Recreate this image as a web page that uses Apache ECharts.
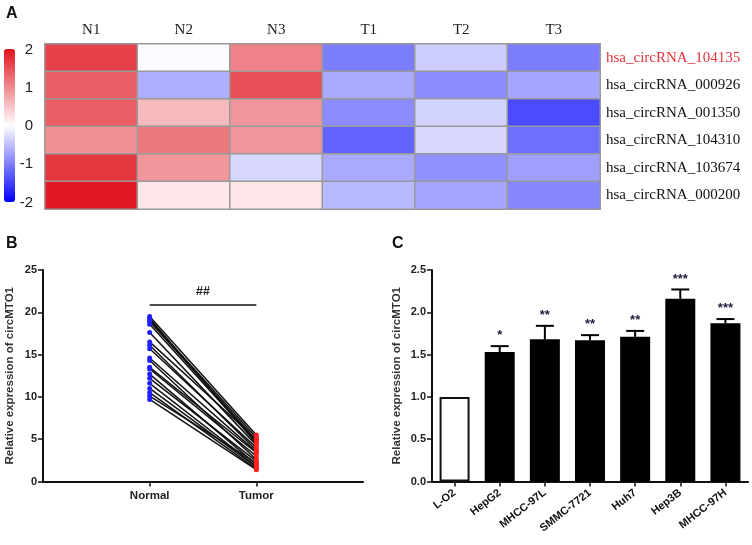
<!DOCTYPE html>
<html>
<head>
<meta charset="utf-8">
<script src="https://cdn.jsdelivr.net/npm/echarts@6/dist/echarts.min.js"></script>
<style>html,body{margin:0;padding:0;background:#fff}#c{width:752px;height:545px}</style>
</head>
<body>
<div id="c"></div>
<script>
// ---- Panel A: heatmap ----
const heatCols = ['N1', 'N2', 'N3', 'T1', 'T2', 'T3'];
const heatRows = ['hsa_circRNA_104135', 'hsa_circRNA_000926', 'hsa_circRNA_001350',
                  'hsa_circRNA_104310', 'hsa_circRNA_103674', 'hsa_circRNA_000200'];
const heatValues = [
  [1.62, -0.03, 1.06, -1.02, -0.39, -1.02],
  [1.36, -0.63, 1.49, -0.67, -0.90, -0.70],
  [1.36, 0.60, 0.89, -0.90, -0.35, -1.41],
  [0.94, 1.15, 0.89, -1.22, -0.31, -1.14],
  [1.70, 0.89, -0.31, -0.67, -0.86, -0.75],
  [1.96, 0.21, 0.21, -0.55, -0.70, -0.94]
];
const colorbarTicks = [-2, -1, 0, 1, 2];

// ---- Panel B: paired Normal vs Tumor ----
const pairCategories = ['', 'Normal', 'Tumor', ''];
const normalValues = [19.5, 19.3, 19.1, 18.9, 18.6, 17.6, 16.5, 16.1, 15.7, 14.6,
                      14.3, 13.5, 13.3, 12.7, 12.2, 11.6, 11.0, 10.5, 10.1, 9.7];
const tumorValues  = [5.5, 4.5, 5.2, 4.9, 4.7, 4.3, 5.0, 3.7, 4.0, 3.5,
                      2.6, 3.4, 3.0, 2.0, 2.4, 1.8, 1.7, 1.5, 2.2, 1.4];
const bracketValue = 20.9;
const bracketLabel = '##';

// ---- Panel C: cell lines ----
const cellLines = ['L-O2', 'HepG2', 'MHCC-97L', 'SMMC-7721', 'Huh7', 'Hep3B', 'MHCC-97H'];
const cellMeans = [1.00, 1.53, 1.68, 1.67, 1.71, 2.16, 1.87];
const cellErr   = [0.00, 0.07, 0.16, 0.06, 0.07, 0.11, 0.05];
const cellStars = ['', '*', '**', '**', '**', '***', '***'];

const yName = 'Relative expression of circMTO1';
const chart = echarts.init(document.getElementById('c'), null, {renderer: 'canvas'});

const heatData = [];
heatValues.forEach((row, r) => row.forEach((v, c) => heatData.push([c, r, v])));

const axisBlack = {lineStyle: {color: '#111', width: 2}};
const tickBlack = {show: true, length: 5, lineStyle: {color: '#111', width: 1.5}};
const boldLbl = {color: '#222', fontSize: 11, fontWeight: 'bold', fontFamily: 'Arial'};

const pairSeries = normalValues.map((n, i) => ({
  type: 'line', xAxisIndex: 1, yAxisIndex: 1,
  data: [
    {value: [1, n], itemStyle: {color: '#2020ff'}},
    {value: [2, tumorValues[i]], itemStyle: {color: '#ff2020'}}
  ],
  symbol: 'circle', symbolSize: 5, showSymbol: true,
  lineStyle: {color: '#111', width: 1.5},
  silent: true, animation: false
}));

const option = {
  animation: false,
  title: [
    {text: 'A', left: 6, top: 6, padding: 0, textStyle: {fontSize: 16, fontWeight: 'bold', fontFamily: 'Arial', color: '#111'}},
    {text: 'B', left: 6, top: 236, padding: 0, textStyle: {fontSize: 16, fontWeight: 'bold', fontFamily: 'Arial', color: '#111'}},
    {text: 'C', left: 392, top: 236, padding: 0, textStyle: {fontSize: 16, fontWeight: 'bold', fontFamily: 'Arial', color: '#111'}}
  ],
  grid: [
    {left: 45, top: 44, width: 555, height: 165},
    {left: 43, top: 270, width: 320, height: 211.5},
    {left: 432, top: 270, width: 316, height: 211.5},
    {left: 4, top: 49.5, width: 11, height: 153}
  ],
  visualMap: {
    type: 'continuous', min: -2, max: 2, seriesIndex: 0,
    left: 4, top: 49, itemWidth: 11, itemHeight: 153, padding: 0,
    calculable: false, hoverLink: false, text: null,
    inRange: {color: ['#0000ff', '#ffffff', '#e0141e']}
  },
  xAxis: [
    {type: 'category', gridIndex: 0, data: heatCols, position: 'top',
     axisLine: {show: false}, axisTick: {show: false}, splitArea: {show: false},
     axisLabel: {margin: 6, fontSize: 15, fontFamily: '"Liberation Serif", "Times New Roman", serif', color: '#222'}},
    {type: 'category', gridIndex: 1, data: pairCategories, boundaryGap: false,
     axisLine: axisBlack,
     axisTick: Object.assign({}, tickBlack, {interval: (i) => i === 1 || i === 2}),
     axisLabel: Object.assign({}, boldLbl, {margin: 8, fontSize: 11.5, interval: (i) => i === 1 || i === 2})},
    {type: 'category', gridIndex: 2, data: cellLines,
     axisLine: axisBlack,
     axisTick: Object.assign({}, tickBlack, {alignWithLabel: true}),
     axisLabel: Object.assign({}, boldLbl, {rotate: 38, margin: 10, interval: 0, color: '#111'})},
    {type: 'value', gridIndex: 3, show: false, min: 0, max: 1}
  ],
  yAxis: [
    {type: 'category', gridIndex: 0, data: heatRows, position: 'right', inverse: true,
     axisLine: {show: false}, axisTick: {show: false},
     axisLabel: {margin: 6, fontSize: 15, fontFamily: '"Liberation Serif", "Times New Roman", serif', color: '#111',
       formatter: (v, i) => i === 0 ? '{r|' + v + '}' : v,
       rich: {r: {color: '#e8323c', fontSize: 15, fontFamily: '"Liberation Serif", "Times New Roman", serif'}}}},
    {type: 'value', gridIndex: 1, min: 0, max: 25, interval: 5,
     axisLine: Object.assign({show: true}, axisBlack), axisTick: tickBlack,
     splitLine: {show: false}, axisLabel: Object.assign({}, boldLbl, {margin: 6}),
     name: yName, nameLocation: 'middle', nameGap: 27,
     nameTextStyle: {fontSize: 11.5, fontWeight: 'bold', fontFamily: 'Arial', color: '#333'}},
    {type: 'value', gridIndex: 2, min: 0, max: 2.5, interval: 0.5,
     axisLine: Object.assign({show: true}, axisBlack), axisTick: tickBlack,
     splitLine: {show: false},
     axisLabel: Object.assign({}, boldLbl, {margin: 6, formatter: (v) => v.toFixed(1)}),
     name: yName, nameLocation: 'middle', nameGap: 29,
     nameTextStyle: {fontSize: 11.5, fontWeight: 'bold', fontFamily: 'Arial', color: '#333'}},
    {type: 'value', gridIndex: 3, min: -2, max: 2, interval: 1, position: 'right',
     axisLine: {show: false}, axisTick: {show: false}, splitLine: {show: false},
     axisLabel: {show: true, align: 'right', margin: 18, fontSize: 15, fontFamily: 'Arial', color: '#222',
       customValues: colorbarTicks}}
  ],
  series: [
    {type: 'heatmap', xAxisIndex: 0, yAxisIndex: 0, data: heatData,
     itemStyle: {borderColor: '#9a9a9a', borderWidth: 1.5}, silent: true},
    ...pairSeries,
    {type: 'line', xAxisIndex: 1, yAxisIndex: 1, data: [], silent: true,
     markLine: {silent: true, symbol: ['none', 'none'],
       lineStyle: {color: '#111', width: 1.5, type: 'solid'},
       label: {show: true, position: 'middle', formatter: bracketLabel, distance: 7,
               fontSize: 12.5, fontWeight: 'bold', fontFamily: 'Arial', color: '#222'},
       data: [[{coord: [1, bracketValue]}, {coord: [2, bracketValue]}]]}},
    {type: 'bar', xAxisIndex: 2, yAxisIndex: 2, barWidth: 30, silent: true,
     data: cellMeans.map((v, i) => i === 0
       ? {value: v, itemStyle: {color: '#fff', borderColor: '#111', borderWidth: 2}}
       : {value: v, itemStyle: {color: '#000'}})},
    {type: 'custom', xAxisIndex: 2, yAxisIndex: 2, silent: true, z: 5,
     data: cellLines.map((c, i) => [i, cellMeans[i], cellMeans[i] + cellErr[i], cellStars[i]]),
     renderItem: (params, api) => {
       const idx = params.dataIndex;
       const p0 = api.coord([api.value(0), api.value(1)]);
       const p1 = api.coord([api.value(0), api.value(2)]);
       const children = [];
       if (cellErr[idx] > 0) {
         children.push({type: 'line', shape: {x1: p0[0], y1: p0[1], x2: p1[0], y2: p1[1]},
                        style: {stroke: '#000', lineWidth: 2}});
         children.push({type: 'line', shape: {x1: p1[0] - 9, y1: p1[1], x2: p1[0] + 9, y2: p1[1]},
                        style: {stroke: '#000', lineWidth: 2}});
       }
       if (cellStars[idx]) {
         children.push({type: 'text', style: {text: cellStars[idx], x: p1[0], y: p1[1] - 4,
           align: 'center', verticalAlign: 'bottom', font: 'bold 13px Arial', fill: '#1c1c3c'}});
       }
       return {type: 'group', children};
     }}
  ]
};
chart.setOption(option);
</script>
</body>
</html>
